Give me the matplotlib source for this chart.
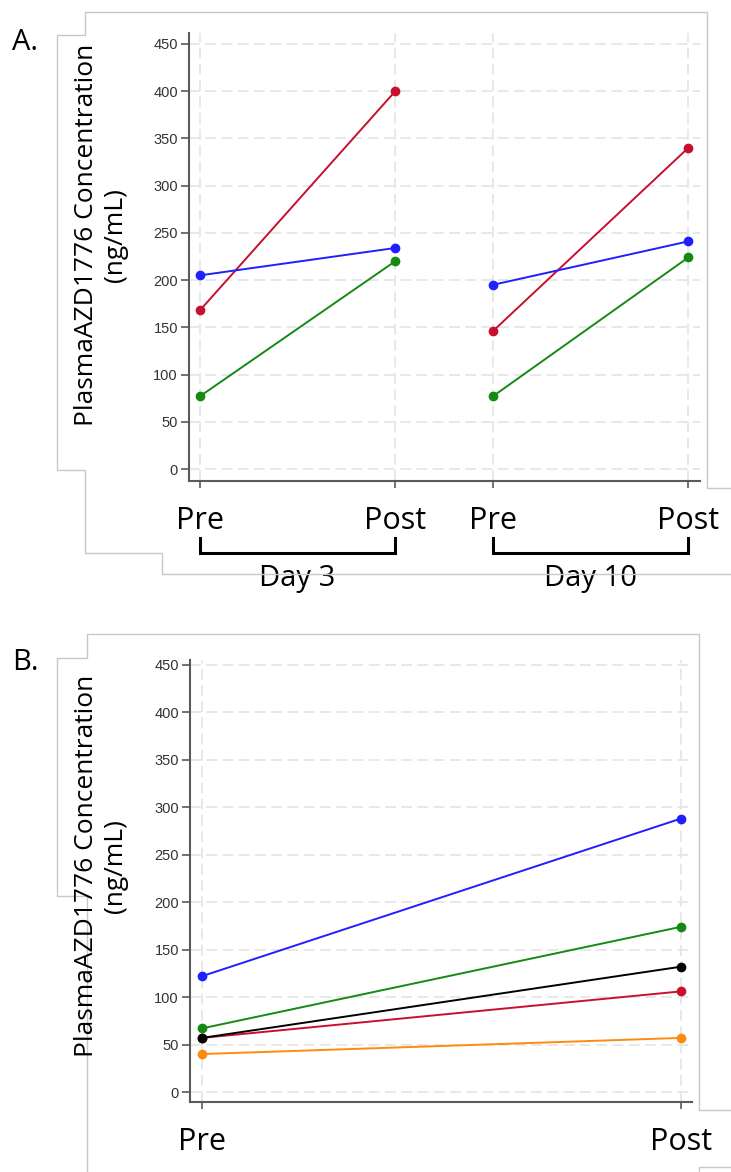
import matplotlib.pyplot as plt
from matplotlib.lines import Line2D

# panel A: Day 3 (pre, post) and Day 10 (pre, post)
a_ticks = [0, 1, 1.5, 2.5]
a_labels = ['Pre', 'Post', 'Pre', 'Post']
a_red = [168, 400, 146, 340]
a_blue = [205, 234, 195, 241]
a_green = [77, 220, 77, 224]

# panel B
b_ticks = [0, 1]
b_labels = ['Pre', 'Post']
b_blue = [122, 288]
b_green = [67, 174]
b_black = [57, 132]
b_red = [57, 106]
b_orange = [40, 57]

yticks = list(range(0, 451, 50))
ylabel = 'PlasmaAZD1776 Concentration\n(ng/mL)'

RED = '#c8102e'
BLUE = '#1f1fff'
GREEN = '#148a14'
BLACK = '#000000'
ORANGE = '#ff8a10'
W, H = 731, 1172
big = 'Open Sans'

fig = plt.figure(figsize=(W / 100, H / 100), dpi=100)


def px(x, y):
    return x / W, 1 - y / H


def frame(pts):
    xs = [p[0] / W for p in pts]
    ys = [1 - p[1] / H for p in pts]
    fig.add_artist(Line2D(xs, ys, transform=fig.transFigure, color='#c8c8c8', lw=1))


frame([(731, 488), (707, 488), (707, 12), (85, 12), (85, 35), (57, 35), (57, 470),
       (85, 470), (85, 553), (162, 553), (162, 574), (731, 574)])
frame([(731, 1110), (699, 1110), (699, 634), (87, 634), (87, 658), (57, 658), (57, 896),
       (87, 896), (87, 1172)])
frame([(731, 1167), (699, 1167), (699, 1172)])


def style(ax, ticks, labels):
    ax.set_yticks(yticks)
    ax.set_xticks(ticks)
    ax.set_xticklabels(labels, fontfamily=big, fontsize=22)
    for s in ['top', 'right']:
        ax.spines[s].set_visible(False)
    for s in ['left', 'bottom']:
        ax.spines[s].set_color('#5a5a5a')
        ax.spines[s].set_linewidth(1.5)
    ax.tick_params(axis='y', length=6, width=1.2, color='#5a5a5a', labelsize=10.5,
                   labelcolor='#333333', pad=2)
    ax.tick_params(axis='x', length=5, width=1.2, color='#5a5a5a', pad=13)
    for t in ax.get_yticklabels():
        t.set_fontfamily('Liberation Sans')
    ax.grid(True, color='#e6e6e6', lw=1.3, ls=(0, (6, 3)))
    ax.set_axisbelow(True)


# panel A
ax1 = fig.add_axes([189 / W, 1 - 481 / H, 511 / W, 448 / H])
for i in [0, 2]:
    xs = a_ticks[i:i + 2]
    ax1.plot(xs, a_red[i:i + 2], color=RED, lw=1.4, marker='o', ms=6)
    ax1.plot(xs, a_blue[i:i + 2], color=BLUE, lw=1.4, marker='o', ms=6)
    ax1.plot(xs, a_green[i:i + 2], color=GREEN, lw=1.4, marker='o', ms=6)
ax1.set_xlim(-0.056, 2.56)
ax1.set_ylim(-12.7, 461.6)
style(ax1, a_ticks, a_labels)

# brackets under panel A
for (x0, x1), name in [((a_ticks[0], a_ticks[1]), 'Day 3'), ((a_ticks[2], a_ticks[3]), 'Day 10')]:
    trans = ax1.get_xaxis_transform()
    yb0 = -(538 - 481) / 448
    yb1 = -(553 - 481) / 448
    ax1.plot([x0, x0, x1, x1], [yb0, yb1, yb1, yb0], transform=trans, color='black',
             lw=2.2, clip_on=False, solid_joinstyle='miter')
    ax1.text((x0 + x1) / 2, -(579 - 481) / 448, name, transform=trans, ha='center',
             va='center', fontfamily=big, fontsize=21)

# panel B
ax2 = fig.add_axes([190 / W, 1 - 1102 / H, 502 / W, 442 / H])
for vals, c in [(b_orange, ORANGE), (b_red, RED), (b_black, BLACK), (b_green, GREEN),
                (b_blue, BLUE)]:
    ax2.plot(b_ticks, vals, color=c, lw=1.4, marker='o', ms=6)
ax2.set_xlim(-0.025, 1.023)
ax2.set_ylim(-10.5, 455)
style(ax2, b_ticks, b_labels)

# y labels and panel letters
fig.text(*px(101, 235), ylabel, rotation=90, ha='center', va='center',
         fontfamily=big, fontsize=19, linespacing=1.2)
fig.text(*px(101, 866), ylabel, rotation=90, ha='center', va='center',
         fontfamily=big, fontsize=19, linespacing=1.2)
fig.text(*px(25, 42), 'A.', ha='center', va='center', fontfamily=big, fontsize=21)
fig.text(*px(25, 663), 'B.', ha='center', va='center', fontfamily=big, fontsize=21)

fig.savefig('out.png', dpi=100)
